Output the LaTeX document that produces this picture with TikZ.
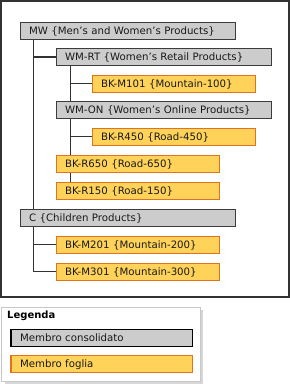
\documentclass[tikz,border=0pt]{standalone}
\usepackage{fontspec}
\setmainfont{DejaVu Sans}
\usepackage{xcolor}
\usetikzlibrary{backgrounds}
\definecolor{frameink}{RGB}{50,50,50}
\definecolor{consfill}{RGB}{204,204,204}
\definecolor{consdraw}{RGB}{60,60,60}
\definecolor{leaffill}{RGB}{255,210,90}
\definecolor{leafdraw}{RGB}{225,115,30}
\definecolor{ink}{RGB}{25,25,25}
\definecolor{legline}{RGB}{200,200,200}
\definecolor{legshade}{RGB}{215,215,215}
\tikzset{
  cons/.style  = {draw=consdraw, fill=consfill, text=ink, line width=1.2pt,
                  anchor=north west, minimum height=17pt, inner xsep=9pt,
                  text depth=0pt, font=\fontsize{10.2}{12}\selectfont},
  leaf/.style  = {cons, draw=leafdraw, fill=leaffill},
  wide/.style  = {text width=197pt, minimum width=215pt},
  mid/.style   = {text width=197pt, minimum width=215pt},
  short/.style = {text width=145pt, minimum width=163pt},
  tree/.style  = {draw=frameink, line width=1.5pt},
}
\begin{document}
\begin{tikzpicture}[x=1pt, y=-1pt]
\useasboundingbox (0,0) rectangle (290,384);
% hierarchy frame
\draw[frameink, line width=2pt] (1,1) rectangle (289,297);
\node[cons, wide]  (mw)   at (19.5,21.5)  {MW \{Men’s and Women’s Products\}};
\node[cons, mid]   (wmrt) at (55.5,48)    {WM-RT \{Women’s Retail Products\}};
\node[leaf, short] (m101) at (91.5,74.5)  {BK-M101 \{Mountain-100\}};
\node[cons, mid]   (wmon) at (55.5,100.5) {WM-ON \{Women’s Online Products\}};
\node[leaf, short] (r450) at (91.5,127.5) {BK-R450 \{Road-450\}};
\node[leaf, short] (r650) at (55.5,154.5) {BK-R650 \{Road-650\}};
\node[leaf, short] (r150) at (55.5,181.5) {BK-R150 \{Road-150\}};
\node[cons, wide]  (c)    at (19.5,208.5) {C \{Children Products\}};
\node[leaf, short] (m201) at (55.5,235.5) {BK-M201 \{Mountain-200\}};
\node[leaf, short] (m301) at (55.5,262.5) {BK-M301 \{Mountain-300\}};
% connectors behind the boxes
\begin{scope}[on background layer]
\draw[tree] ([xshift=14pt]mw.south west) -- ([xshift=14pt]c.north west);
\draw[tree] ([xshift=14pt]mw.south west) |- (wmrt.west);
\draw[tree] ([xshift=15pt]wmrt.south west) -- ([xshift=15pt]r150.north west);
\draw[tree] ([xshift=15pt]wmrt.south west) |- (m101.west);
\draw[tree] ([xshift=15pt]wmon.south west) |- (r450.west);
\draw[tree] ([xshift=14pt]c.south west) |- (m201.west);
\draw[tree] ([xshift=14pt]c.south west) |- (m301.west);
\end{scope}
% legend
\fill[legshade] (5,310) rectangle (203,384);
\draw[legline, fill=white, line width=1pt] (2,307) rectangle (200,381);
\node[anchor=west, inner sep=0pt, text=black,
      font=\fontsize{10}{12}\selectfont\bfseries] (legtitle) at (7,316) {Legenda};
\node[cons, text width=163pt, minimum width=181pt, draw=black] (legcons) at (10.5,328.5) {Membro consolidato};
\node[leaf, text width=163pt, minimum width=181pt] (legleaf) at (10.5,355) {Membro foglia};
\end{tikzpicture}
\end{document}
